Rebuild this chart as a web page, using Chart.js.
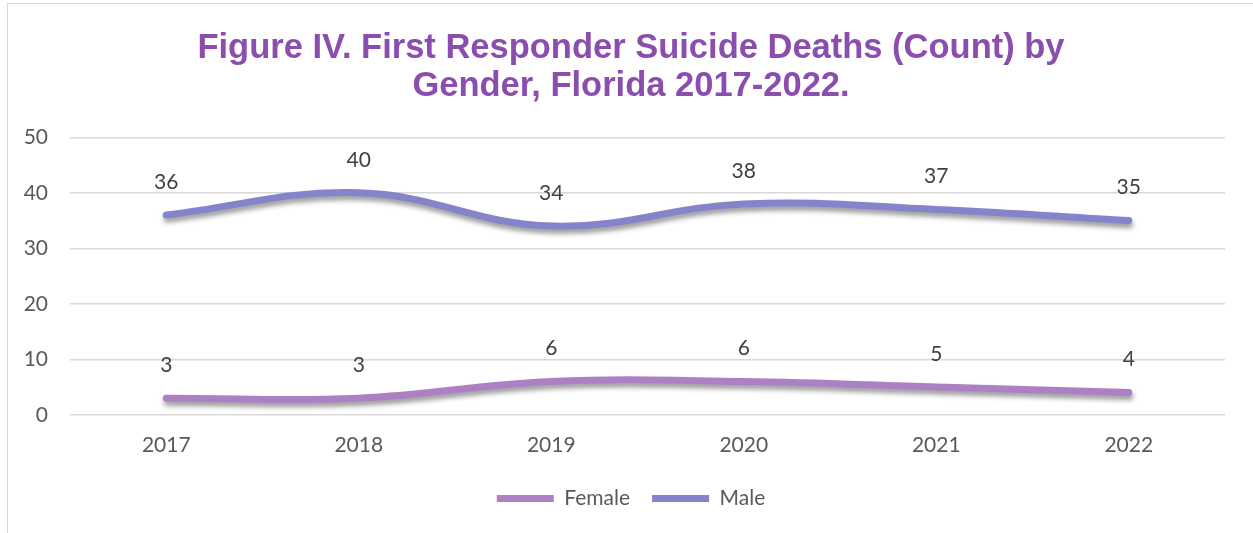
<!DOCTYPE html>
<html>
<head>
<meta charset="utf-8">
<script src="https://cdn.jsdelivr.net/npm/chart.js@4.4.1/dist/chart.umd.min.js"></script>
<style>
    html, body { margin: 0; padding: 0; background: #fff; overflow: hidden; }
    #frame {
        position: absolute; left: 7px; top: 3px;
        width: 1400px; height: 600px;
        border-left: 1px solid #d9d9d9;
        border-top: 1px solid #d9d9d9;
    }
    #wrap { position: absolute; left: 0; top: 0; width: 1262px; height: 533px; }
</style>
</head>
<body>
<div id="frame"></div>
<div id="wrap"><canvas id="chart"></canvas></div>
<script>
// ===== Data =====
const years = ['2017', '2018', '2019', '2020', '2021', '2022'];
const femaleDeaths = [3, 3, 6, 6, 5, 4];
const maleDeaths = [36, 40, 34, 38, 37, 35];
const yTicks = [0, 10, 20, 30, 40, 50];

const femaleColor = '#ad80c4';
const maleColor = '#8583c9';
const textColor = '#595959';
const labelFont = { family: 'Lato', size: 21 };

// Soft drop shadow under the lines
const lineShadow = {
    id: 'lineShadow',
    beforeDatasetsDraw(chart) {
        const ctx = chart.ctx;
        ctx.save();
        ctx.shadowColor = 'rgba(0, 0, 0, 0.4)';
        ctx.shadowBlur = 5;
        ctx.shadowOffsetX = 1;
        ctx.shadowOffsetY = 4;
    },
    afterDatasetsDraw(chart) {
        chart.ctx.restore();
    }
};

// Value labels above each point
const valueLabels = {
    id: 'valueLabels',
    afterDraw(chart) {
        const ctx = chart.ctx;
        ctx.save();
        ctx.font = '21px Lato';
        ctx.fillStyle = '#404040';
        ctx.textAlign = 'center';
        ctx.textBaseline = 'middle';
        chart.data.datasets.forEach((ds, i) => {
            chart.getDatasetMeta(i).data.forEach((pt, j) => {
                ctx.fillText(ds.data[j], pt.x, pt.y - 33);
            });
        });
        ctx.restore();
    }
};

new Chart(document.getElementById('chart').getContext('2d'), {
    type: 'line',
    data: {
        labels: years,
        datasets: [
            {
                label: 'Female',
                data: femaleDeaths,
                borderColor: femaleColor,
                backgroundColor: femaleColor,
                borderWidth: 7,
                borderCapStyle: 'round',
                tension: 0.4,
                pointRadius: 0,
                yAxisID: 'y'
            },
            {
                label: 'Male',
                data: maleDeaths,
                borderColor: maleColor,
                backgroundColor: maleColor,
                borderWidth: 7,
                borderCapStyle: 'round',
                tension: 0.4,
                pointRadius: 0,
                yAxisID: 'y'
            }
        ]
    },
    options: {
        responsive: true,
        maintainAspectRatio: false,
        animation: false,
        layout: { padding: { top: 10, left: 24, right: 24, bottom: 14 } },
        plugins: {
            title: {
                display: true,
                text: ['Figure IV. First Responder Suicide Deaths (Count) by', 'Gender, Florida 2017-2022.'],
                color: '#8b4dae',
                font: { family: "'Liberation Sans', Arial, sans-serif", size: 34.5, weight: 'bold', lineHeight: 1.12 },
                padding: { top: 19, bottom: 31 }
            },
            legend: {
                position: 'bottom',
                labels: {
                    color: textColor,
                    font: labelFont,
                    boxWidth: 57,
                    boxHeight: 7,
                    useBorderRadius: true,
                    borderRadius: 3.5,
                    padding: 22,
                    generateLabels(chart) {
                        return chart.data.datasets.map((ds, i) => ({
                            text: ds.label,
                            fillStyle: ds.borderColor,
                            strokeStyle: ds.borderColor,
                            lineWidth: 0,
                            fontColor: textColor,
                            datasetIndex: i
                        }));
                    }
                }
            },
            tooltip: { enabled: false }
        },
        scales: {
            x: {
                offset: true,
                grid: { display: false, drawTicks: false, offset: true },
                border: { display: false },
                ticks: { color: textColor, font: labelFont, padding: 18 },
                afterFit(scale) {
                    scale.height -= 10;
                }
            },
            y: {
                min: 0,
                max: 50,
                afterBuildTicks(scale) {
                    scale.ticks = yTicks.map(v => ({ value: v }));
                },
                afterFit(scale) {
                    scale.width = 46;
                },
                grid: { color: '#d9d9d9', lineWidth: 1.5, drawTicks: false },
                border: { display: false },
                ticks: { color: textColor, font: labelFont, padding: 22 }
            },
            // blank gutter on the right side of the plot
            yRight: {
                position: 'right',
                min: 0,
                max: 50,
                grid: { display: false, drawTicks: false },
                border: { display: false },
                ticks: { display: false },
                afterFit(scale) {
                    scale.width = 13;
                }
            }
        }
    },
    plugins: [lineShadow, valueLabels]
});
</script>
</body>
</html>
